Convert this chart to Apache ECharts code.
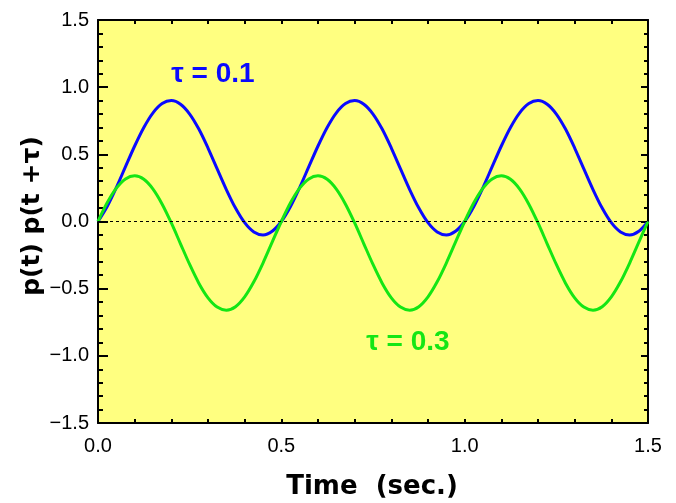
<!DOCTYPE html>
<html>
<head>
<meta charset="utf-8">
<script src="https://cdn.jsdelivr.net/npm/echarts@6/dist/echarts.min.js"></script>
<style>html,body{margin:0;padding:0;background:#fff;}#c{width:676px;height:503px;}</style>
</head>
<body>
<div id="c"></div>
<script>
const times = [0, 0.025, 0.05, 0.075, 0.1, 0.125, 0.15, 0.175, 0.2, 0.225, 0.25, 0.275, 0.3, 0.325, 0.35, 0.375, 0.4, 0.425, 0.45, 0.475,
  0.5, 0.525, 0.55, 0.575, 0.6, 0.625, 0.65, 0.675, 0.7, 0.725, 0.75, 0.775, 0.8, 0.825, 0.85, 0.875, 0.9, 0.925, 0.95, 0.975,
  1.0, 1.025, 1.05, 1.075, 1.1, 1.125, 1.15, 1.175, 1.2, 1.225, 1.25, 1.275, 1.3, 1.325, 1.35, 1.375, 1.4, 1.425, 1.45, 1.475, 1.5];
const tau01 = [0, 0.112, 0.253, 0.408, 0.562, 0.7, 0.809, 0.878, 0.9, 0.873, 0.8, 0.688, 0.547, 0.392, 0.238, 0.1, -0.009, -0.078, -0.1, -0.073,
  0, 0.112, 0.253, 0.408, 0.562, 0.7, 0.809, 0.878, 0.9, 0.873, 0.8, 0.688, 0.547, 0.392, 0.238, 0.1, -0.009, -0.078, -0.1, -0.073,
  0, 0.112, 0.253, 0.408, 0.562, 0.7, 0.809, 0.878, 0.9, 0.873, 0.8, 0.688, 0.547, 0.392, 0.238, 0.1, -0.009, -0.078, -0.1, -0.073, 0];
const tau03 = [0, 0.139, 0.248, 0.317, 0.34, 0.314, 0.241, 0.129, -0.011, -0.166, -0.32, -0.459, -0.568, -0.637, -0.66, -0.634, -0.561, -0.449, -0.309, -0.154,
  0, 0.139, 0.248, 0.317, 0.34, 0.314, 0.241, 0.129, -0.011, -0.166, -0.32, -0.459, -0.568, -0.637, -0.66, -0.634, -0.561, -0.449, -0.309, -0.154,
  0, 0.139, 0.248, 0.317, 0.34, 0.314, 0.241, 0.129, -0.011, -0.166, -0.32, -0.459, -0.568, -0.637, -0.66, -0.634, -0.561, -0.449, -0.309, -0.154, 0];
const xTicks = ['0.0', '0.5', '1.0', '1.5'];
const yTicks = ['\u22121.5', '\u22121.0', '\u22120.5', '0.0', '0.5', '1.0', '1.5'];
const labelA = '\u03c4 = 0.1';
const labelB = '\u03c4 = 0.3';
const xTitle = 'Time  (sec.)';
const yTitle = 'p(t) p(t +\u03c4)';

const fmt = v => v.toFixed(1).replace('-', '\u2212');
const chart = echarts.init(document.getElementById('c'), null, {renderer: 'canvas'});
const lineAxis = {show: true, onZero: false, lineStyle: {color: '#000', width: 2}};
const tickFont = {fontFamily: 'Liberation Sans', fontSize: 20, color: '#000'};
chart.setOption({
  animation: false,
  backgroundColor: '#fff',
  grid: {left: 98, right: 28, top: 20, bottom: 80, show: true, backgroundColor: '#ffff80', borderWidth: 0},
  xAxis: [
    {type: 'value', min: 0, max: 1.5, interval: 0.5, position: 'bottom',
     axisLine: lineAxis, splitLine: {show: false},
     axisTick: {inside: true, length: 4, lineStyle: {color: '#000', width: 2}},
     minorTick: {show: true, splitNumber: 5, length: 4, lineStyle: {color: '#000', width: 2}},
     axisLabel: Object.assign({margin: 13, formatter: fmt}, tickFont)},
    {type: 'value', min: 0, max: 1.5, interval: 0.5, position: 'top',
     axisLine: lineAxis, splitLine: {show: false},
     axisTick: {inside: true, length: 4, lineStyle: {color: '#000', width: 2}},
     minorTick: {show: true, splitNumber: 5, length: 4, lineStyle: {color: '#000', width: 2}},
     axisLabel: {show: false}}
  ],
  yAxis: [
    {type: 'value', min: -1.5, max: 1.5, interval: 0.5, position: 'left',
     axisLine: lineAxis, splitLine: {show: false},
     axisTick: {inside: true, length: 10, lineStyle: {color: '#000', width: 2}},
     minorTick: {show: true, splitNumber: 5, length: 5, lineStyle: {color: '#000', width: 2}},
     axisLabel: Object.assign({margin: 9, formatter: fmt}, tickFont)},
    {type: 'value', min: -1.5, max: 1.5, interval: 0.5, position: 'right',
     axisLine: lineAxis, splitLine: {show: false},
     axisTick: {inside: true, length: 7, lineStyle: {color: '#000', width: 2}},
     minorTick: {show: true, splitNumber: 5, length: 4, lineStyle: {color: '#000', width: 2}},
     axisLabel: {show: false}}
  ],
  series: [
    {type: 'line', name: labelA, xAxisIndex: 0, yAxisIndex: 0, smooth: 0.3, symbol: 'none',
     lineStyle: {color: '#0a0aff', width: 3}, z: 3,
     data: times.map((t, i) => [t, tau01[i]]),
     markLine: {silent: true, symbol: 'none', label: {show: false},
       lineStyle: {color: '#000', width: 1, type: [3, 3]}, data: [{yAxis: 0}]}},
    {type: 'line', name: labelB, xAxisIndex: 0, yAxisIndex: 0, smooth: 0.3, symbol: 'none',
     lineStyle: {color: '#14e614', width: 3}, z: 4,
     data: times.map((t, i) => [t, tau03[i]])}
  ],
  graphic: [
    {type: 'text', x: 213, y: 74, style: {text: labelA, font: 'bold 28px "Liberation Sans"', fill: '#0a0aff', align: 'center', verticalAlign: 'middle'}},
    {type: 'text', x: 408, y: 342, style: {text: labelB, font: 'bold 28px "Liberation Sans"', fill: '#14e614', align: 'center', verticalAlign: 'middle'}},
    {type: 'text', x: 372, y: 487, style: {text: xTitle, font: 'bold 26px "DejaVu Sans"', fill: '#000', align: 'center', verticalAlign: 'middle'}},
    {type: 'text', x: 32, y: 216, rotation: Math.PI / 2, style: {text: yTitle, font: 'bold 25px "DejaVu Sans"', fill: '#000', align: 'center', verticalAlign: 'middle'}}
  ]
});
</script>
</body>
</html>
